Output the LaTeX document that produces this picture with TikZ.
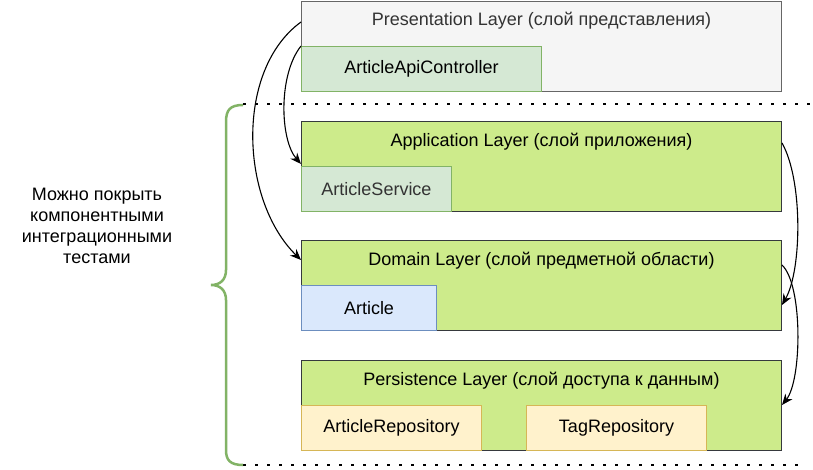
\documentclass[tikz,border=0pt]{standalone}
\usepackage{fontspec}
\setmainfont{Liberation Sans}
\usetikzlibrary{positioning,arrows.meta}
\definecolor{presfill}{HTML}{F5F5F5}
\definecolor{presline}{HTML}{666666}
\definecolor{layerfill}{HTML}{CDEB8B}
\definecolor{layerline}{HTML}{36393D}
\definecolor{greenfill}{HTML}{D5E8D4}
\definecolor{greenline}{HTML}{82B366}
\definecolor{bluefill}{HTML}{DAE8FC}
\definecolor{blueline}{HTML}{6C8EBF}
\definecolor{yellowfill}{HTML}{FFF2CC}
\definecolor{yellowline}{HTML}{D6B656}
\definecolor{greytext}{HTML}{333333}
\begin{document}
\begin{tikzpicture}[x=1pt, y=-1pt, >={Stealth[length=11pt,width=9pt]},
    every node/.style={font=\fontsize{18}{21}\selectfont, inner sep=0pt},
    layer/.style={draw=layerline, fill=layerfill, line width=1pt, minimum width=480pt, minimum height=90pt, anchor=north west},
    comp/.style={line width=1pt, minimum height=45pt, anchor=south west},
    dots/.style={line width=2.6pt, dash pattern=on 2.6pt off 9.4pt}]
    \useasboundingbox (0,0) rectangle (813,470);
    % layers
    \node[layer, draw=presline, fill=presfill] (pres) at (301,1) {};
    \node[layer] (app)  at (301,121) {};
    \node[layer] (dom)  at (301,240) {};
    \node[layer] (pers) at (301,360) {};
    \node[text=greytext] (presT) at ([yshift=-20pt]pres.north) {Presentation Layer (слой представления)};
    \node (appT)  at ([yshift=-21pt]app.north)  {Application Layer (слой приложения)};
    \node (domT)  at ([yshift=-21pt]dom.north)  {Domain Layer (слой предметной области)};
    \node (persT) at ([yshift=-21pt]pers.north) {Persistence Layer (слой доступа к данным)};
    % components
    \node[comp, draw=greenline, fill=greenfill, minimum width=240pt] (api) at (pres.south west) {ArticleApiController};
    \node[comp, draw=greenline, fill=greenfill, minimum width=150pt, text=greytext] (svc) at (app.south west) {ArticleService};
    \node[comp, draw=blueline, fill=bluefill, minimum width=135pt] (art) at (dom.south west) {Article};
    \node[comp, draw=yellowline, fill=yellowfill, minimum width=180pt] (artrepo) at (pers.south west) {ArticleRepository};
    \node[comp, draw=yellowline, fill=yellowfill, minimum width=180pt] (tagrepo) at ([xshift=225pt]pers.south west) {TagRepository};
    % dependencies
    \draw[->, line width=1.1pt] ([yshift=-21pt]pres.north west) .. controls (235,70) and (240,200) .. ([yshift=-20pt]dom.north west);
    \draw[->, line width=1.1pt] (api.north west) .. controls (278,75) and (280,140) .. ([yshift=-43pt]app.north west);
    \draw[->, line width=1.1pt] ([yshift=-22pt]app.north east) .. controls (803,180) and (802,270) .. ([yshift=-65pt]app.north east |- dom.north east);
    \draw[->, line width=1.1pt] ([yshift=-25pt]dom.north east) .. controls (803,285) and (802,380) .. ([yshift=-45pt]pers.north east);
    % test scope
    \draw[dots] (243,104) -- (813,104);
    \draw[dots] (243,465) -- (801,465);
    \draw[greenline, line width=2.5pt] (243,105) .. controls (230,105) and (226,110) .. (226,122) -- (226,270)
        .. controls (226,280) and (220,285) .. (211,285) .. controls (220,285) and (226,290) .. (226,300)
        -- (226,450) .. controls (226,460) and (230,465) .. (243,465);
    \node[align=center] (note) at (97,226) {Можно покрыть\\компонентными\\интеграционными\\тестами};
\end{tikzpicture}
\end{document}
